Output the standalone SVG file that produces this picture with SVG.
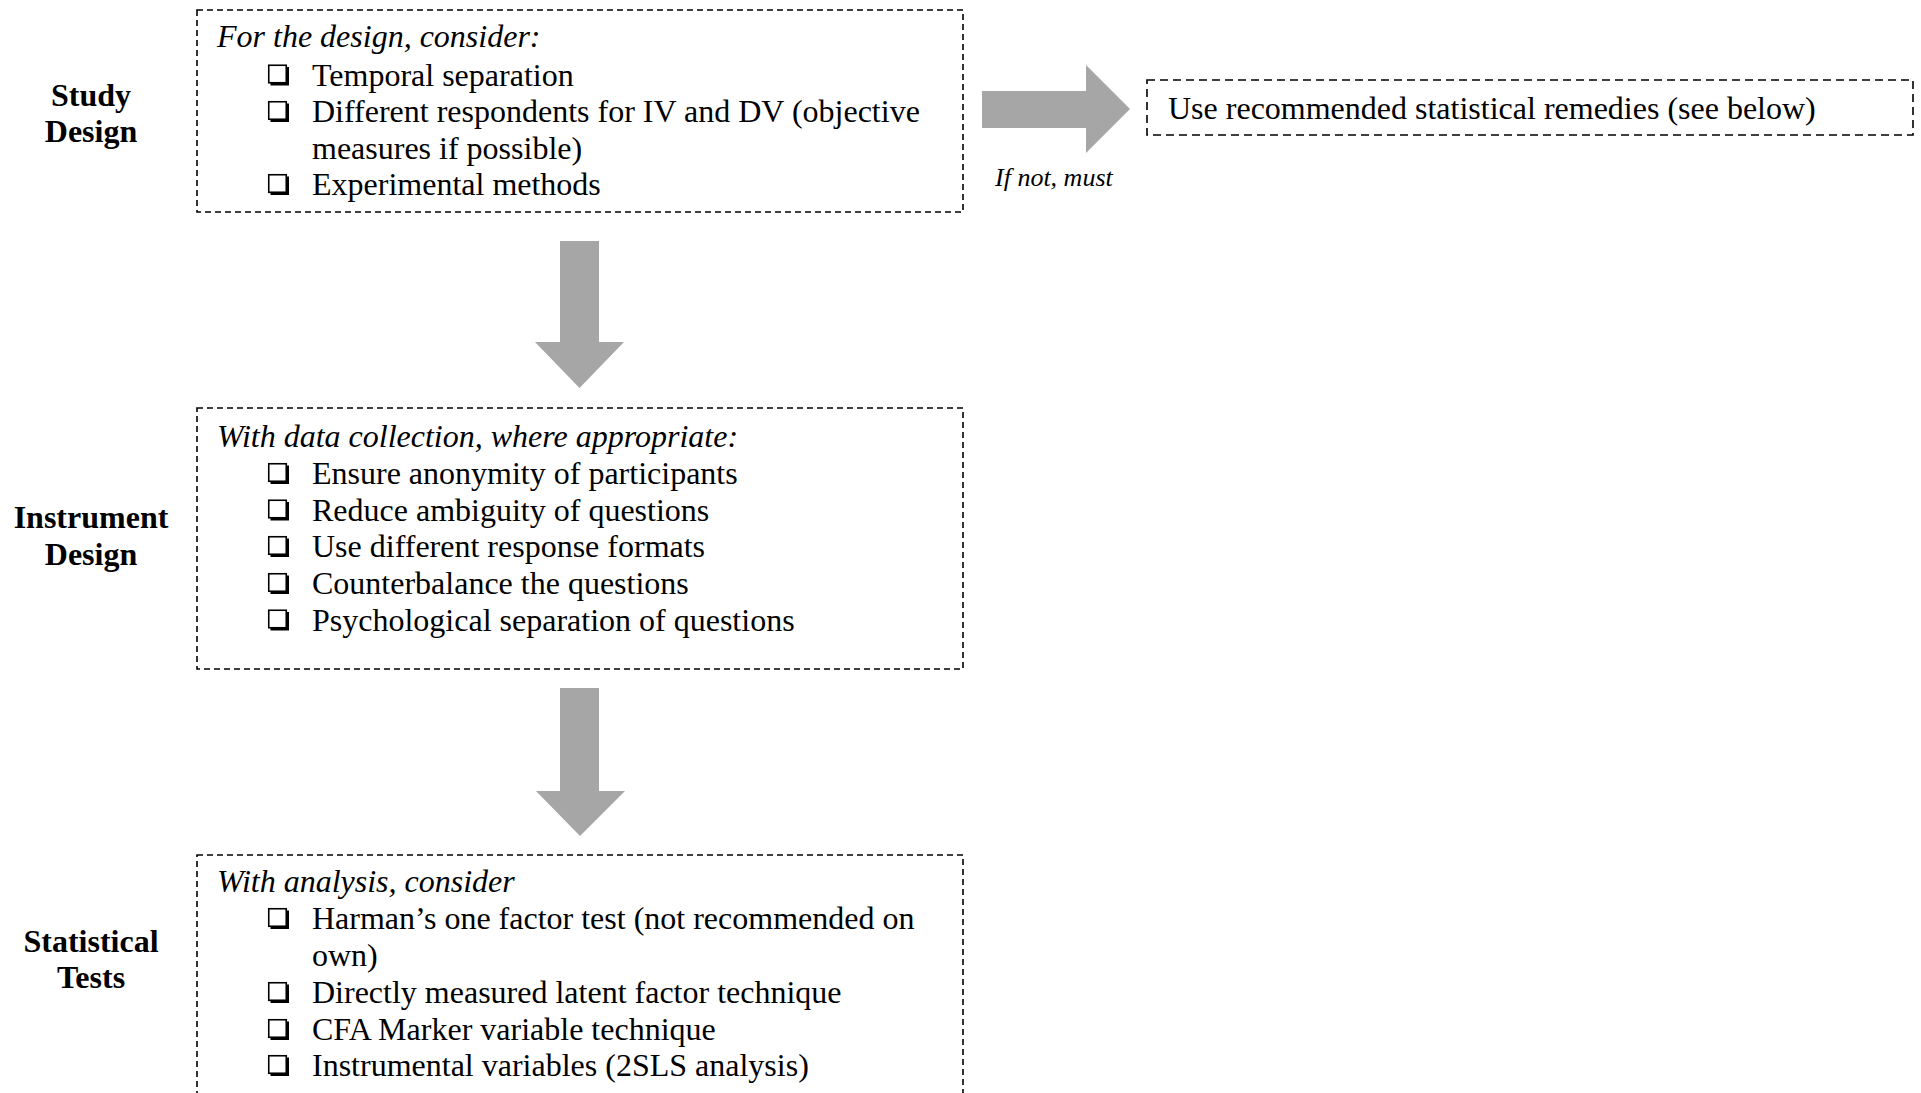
<svg xmlns="http://www.w3.org/2000/svg" width="1921" height="1093" viewBox="0 0 1921 1093">
<style>
text{font-family:"Liberation Serif","Times New Roman",serif;fill:#000}
.t{font-size:32px}
.h{font-size:32px;font-style:italic}
.lbl{font-size:32px;font-weight:bold;text-anchor:middle}
.note{font-size:26px;font-style:italic}
.box{fill:none;stroke:#000;stroke-width:1.6;stroke-dasharray:6 4}
.box2{fill:none;stroke:#000;stroke-width:1.6;stroke-dasharray:8 5}
.arrow{fill:#a6a6a6}
</style>
<defs>
<g id="cb">
<rect x="0.75" y="-20.25" width="17.5" height="17.5" fill="#fff" stroke="#000" stroke-width="1.6"/>
<path d="M2.5,-1.5 H19.5 V-18.5" fill="none" stroke="#000" stroke-width="3"/>
</g>
</defs>
<rect width="1921" height="1093" fill="#fff"/>

<g id="connectors">
<path class="arrow" d="M982,91 H1086 V65 L1130,109 L1086,153 V128 H982 Z"/>
<path class="arrow" d="M560,241 H599 V342 H624 L579.5,388 L535,342 H560 Z"/>
<path class="arrow" d="M560,688 H599 V791 H625 L580,836 L536,791 H560 Z"/>
<text class="note" x="995" y="186">If not, must</text>
</g>

<g id="label-study">
<text class="lbl" x="91" y="106">Study</text>
<text class="lbl" x="91" y="142">Design</text>
</g>
<g id="label-instrument">
<text class="lbl" x="91" y="528">Instrument</text>
<text class="lbl" x="91" y="565">Design</text>
</g>
<g id="label-statistical">
<text class="lbl" x="91" y="952">Statistical</text>
<text class="lbl" x="91" y="988">Tests</text>
</g>

<g id="node-study">
<rect class="box" x="197" y="10" width="766" height="202"/>
<text class="h" x="217" y="47">For the design, consider:</text>
<use href="#cb" x="268" y="85.5"/><text class="t" x="312" y="85.5">Temporal separation</text>
<use href="#cb" x="268" y="122"/><text class="t" x="312" y="122">Different respondents for IV and DV (objective</text>
<text class="t" x="312" y="158.5">measures if possible)</text>
<use href="#cb" x="268" y="195"/><text class="t" x="312" y="195">Experimental methods</text>
</g>

<g id="node-remedies">
<rect class="box2" x="1147" y="80" width="766" height="55"/>
<text class="t" x="1168" y="119">Use recommended statistical remedies (see below)</text>
</g>

<g id="node-instrument">
<rect class="box" x="197" y="408" width="766" height="261"/>
<text class="h" x="217" y="447">With data collection, where appropriate:</text>
<use href="#cb" x="268" y="484"/><text class="t" x="312" y="484">Ensure anonymity of participants</text>
<use href="#cb" x="268" y="520.5"/><text class="t" x="312" y="520.5">Reduce ambiguity of questions</text>
<use href="#cb" x="268" y="557"/><text class="t" x="312" y="557">Use different response formats</text>
<use href="#cb" x="268" y="594"/><text class="t" x="312" y="594">Counterbalance the questions</text>
<use href="#cb" x="268" y="630.5"/><text class="t" x="312" y="630.5">Psychological separation of questions</text>
</g>

<g id="node-statistical">
<rect class="box" x="197" y="855" width="766" height="260"/>
<text class="h" x="217" y="892">With analysis, consider</text>
<use href="#cb" x="268" y="929"/><text class="t" x="312" y="929">Harman’s one factor test (not recommended on</text>
<text class="t" x="312" y="966">own)</text>
<use href="#cb" x="268" y="1003"/><text class="t" x="312" y="1003">Directly measured latent factor technique</text>
<use href="#cb" x="268" y="1040"/><text class="t" x="312" y="1040">CFA Marker variable technique</text>
<use href="#cb" x="268" y="1076"/><text class="t" x="312" y="1076">Instrumental variables (2SLS analysis)</text>
</g>
</svg>
